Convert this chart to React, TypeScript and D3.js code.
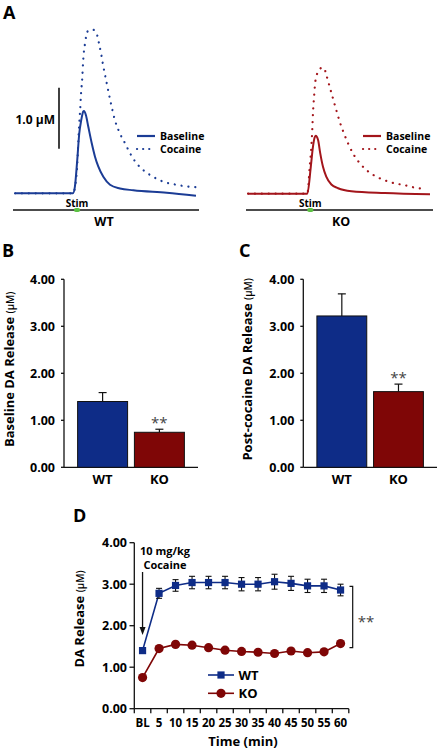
import React from 'react';
import * as d3 from 'd3';

const FONT = "'Open Sans', 'DejaVu Sans', sans-serif";
const BLUE_TRACE = '#1b3c95';
const RED_TRACE = '#a3151b';
const BLUE = '#0e2c87';
const RED = '#7f0606';
const GREEN = '#5cc143';

// ---- Panel A: voltammetry traces (time s, concentration µM)
const wtBaseT = [0, 1, 2, 3.2, 3.31, 3.44, 3.55, 3.66, 3.77, 3.81, 3.92, 4.05, 4.24, 4.42, 4.6, 4.88, 5.25, 5.8, 6.54, 8.38, 10];
const wtBaseV = [0, 0, 0, 0, 0.11, 0.55, 0.98, 1.2, 1.34, 1.35, 1.28, 1.09, 0.82, 0.6, 0.44, 0.27, 0.14, 0.08, 0.05, 0.01, -0.04];
const wtCocT = [0, 3.2, 3.4, 3.54, 3.6, 3.65, 3.72, 3.77, 3.87, 4.0, 4.14, 4.33, 4.51, 4.64, 4.75, 4.88, 5.03, 5.18, 5.34, 5.52, 5.8, 6.08, 6.35, 6.72, 7.09, 7.64, 8.19, 8.75, 9.3, 10];
const wtCocV = [0, 0, 0.3, 1.09, 1.37, 1.64, 1.91, 2.19, 2.46, 2.65, 2.68, 2.68, 2.62, 2.46, 2.3, 2.08, 1.86, 1.64, 1.42, 1.2, 0.98, 0.82, 0.66, 0.49, 0.38, 0.27, 0.19, 0.15, 0.12, 0.1];
const koBaseT = [0, 1, 2, 3.26, 3.45, 3.57, 3.66, 3.72, 3.85, 3.97, 4.12, 4.3, 4.58, 4.95, 5.68, 7.51, 10];
const koBaseV = [0, 0, 0, 0, 0.44, 0.77, 0.92, 0.95, 0.88, 0.66, 0.44, 0.28, 0.15, 0.09, 0.04, 0.01, -0.01];
const koCocT = [0, 3.26, 3.39, 3.48, 3.53, 3.57, 3.63, 3.7, 3.85, 4.03, 4.18, 4.3, 4.49, 4.67, 4.85, 5.04, 5.27, 5.49, 5.77, 6.14, 6.5, 7.05, 7.51, 8.06, 8.61, 9.16, 9.8];
const koCocV = [0, 0, 0.44, 0.77, 1.04, 1.32, 1.59, 1.84, 2.0, 2.06, 2.06, 1.95, 1.75, 1.56, 1.37, 1.18, 0.99, 0.83, 0.66, 0.5, 0.39, 0.28, 0.22, 0.17, 0.14, 0.1, 0.08];
const stimStart = 3.25;
const stimEnd = 3.6;

// ---- Panels B & C
const groups = ['WT', 'KO'];
const baselineMeans = [1.4, 0.745];
const baselineErr = [0.19, 0.065];
const cocaineMeans = [3.22, 1.61];
const cocaineErr = [0.47, 0.16];
const yTicks = [0, 1, 2, 3, 4];

// ---- Panel D
const timeLabels = ['BL', '5', '10', '15', '20', '25', '30', '35', '40', '45', '50', '55', '60'];
const wtMeans = [1.4, 2.78, 2.97, 3.04, 3.04, 3.04, 3.0, 3.0, 3.06, 3.02, 2.96, 2.96, 2.86];
const wtErr = [0, 0.12, 0.14, 0.15, 0.15, 0.15, 0.16, 0.16, 0.18, 0.17, 0.16, 0.16, 0.14];
const koMeans = [0.75, 1.45, 1.55, 1.53, 1.47, 1.41, 1.38, 1.36, 1.33, 1.39, 1.35, 1.37, 1.57];
const bracketTop = 2.95;
const bracketBottom = 1.47;

function Trace({ x0, x1, y0, color, name }: { x0: number; x1: number; y0: number; color: string; name: string }) {
  const x = d3.scaleLinear().domain([0, 10]).range([x0, x1]);
  const y = d3.scaleLinear().domain([0, 1]).range([y0, y0 - 61]);
  const isWT = name === 'WT';
  const bT = isWT ? wtBaseT : koBaseT;
  const bV = isWT ? wtBaseV : koBaseV;
  const cT = isWT ? wtCocT : koCocT;
  const cV = isWT ? wtCocV : koCocV;
  const line = d3.line<[number, number]>().x(d => x(d[0])).y(d => y(d[1])).curve(d3.curveMonotoneX);
  const base = line(bT.map((t, i) => [t, bV[i]] as [number, number])) || '';
  const coc = line(cT.map((t, i) => [t, cV[i]] as [number, number])) || '';
  const lx = isWT ? 137 : 363;
  return (
    <g>
      <path d={coc} fill="none" stroke={color} strokeWidth={2.2} strokeDasharray="0.1 6.8" strokeLinecap="round" />
      <path d={base} fill="none" stroke={color} strokeWidth={2} />
      <line x1={lx} x2={lx + 18} y1={136} y2={136} stroke={color} strokeWidth={2.2} />
      <line x1={lx} x2={lx + 18} y1={149} y2={149} stroke={color} strokeWidth={2.2} strokeDasharray="0.1 6" strokeLinecap="round" />
      <text x={lx + 23} y={139.5} fontSize={10.5} fontWeight={700} fontFamily={FONT}>Baseline</text>
      <text x={lx + 23} y={152.5} fontSize={10.5} fontWeight={700} fontFamily={FONT}>Cocaine</text>
      <line x1={x0 - 2} x2={x1 + 3} y1={210} y2={210} stroke="#111" strokeWidth={1.5} />
      <rect x={x(stimStart)} y={208} width={x(stimEnd) - x(stimStart)} height={4} rx={2} fill={GREEN} />
      <text x={(x(stimStart) + x(stimEnd)) / 2} y={206.5} textAnchor="middle" fontSize={10} fontWeight={700} fontFamily={FONT}>Stim</text>
      <text x={isWT ? 104 : 341} y={225.5} textAnchor="middle" fontSize={12.5} fontWeight={700} fontFamily={FONT}>{name}</text>
      {isWT && (
        <g>
          <line x1={59} x2={59} y1={y(0.73)} y2={y(1.73)} stroke="#111" strokeWidth={1.6} />
          <text x={55} y={124} textAnchor="end" fontSize={12} fontWeight={700} fontFamily={FONT}>1.0 µM</text>
        </g>
      )}
    </g>
  );
}

function BarPanel({ x0, x1, means, errs, label, labelX, letter, letterX }: {
  x0: number; x1: number; means: number[]; errs: number[]; label: string; labelX: number; letter: string; letterX: number;
}) {
  const y = d3.scaleLinear().domain([0, 4]).range([467.3, 279.3]);
  const x = d3.scaleBand<string>().domain(groups).range([x0, x1]).paddingInner(0.12).paddingOuter(0.24);
  const bw = x.bandwidth();
  const colors = [BLUE, RED];
  return (
    <g fontFamily={FONT}>
      <text x={letterX} y={257} fontSize={18} fontWeight={700}>{letter}</text>
      <line x1={x0} x2={x0} y1={y(4)} y2={y(0)} stroke="#111" strokeWidth={1.3} />
      <line x1={x0} x2={x1} y1={y(0)} y2={y(0)} stroke="#111" strokeWidth={1.3} />
      {yTicks.map(t => (
        <g key={t}>
          <line x1={x0 - 3} x2={x0} y1={y(t)} y2={y(t)} stroke="#111" strokeWidth={1.3} />
          <text x={x0 - 9} y={y(t) + 4.5} textAnchor="end" fontSize={12.5} fontWeight={700}>{t.toFixed(2)}</text>
        </g>
      ))}
      {groups.map((g, i) => {
        const bx = x(g) as number;
        const cx = bx + bw / 2;
        return (
          <g key={g}>
            <line x1={cx} x2={cx} y1={y(means[i])} y2={y(means[i] + errs[i])} stroke="#111" strokeWidth={1.2} />
            <line x1={cx - 4} x2={cx + 4} y1={y(means[i] + errs[i])} y2={y(means[i] + errs[i])} stroke="#111" strokeWidth={1.2} />
            <rect x={bx} y={y(means[i])} width={bw} height={y(0) - y(means[i])} fill={colors[i]} stroke="#111" strokeWidth={1} />
            <text x={cx} y={484} textAnchor="middle" fontSize={13} fontWeight={700}>{g}</text>
          </g>
        );
      })}
      <text x={(x('KO') as number) + bw / 2} y={y(means[1] + errs[1]) + 0.5} textAnchor="middle" fontSize={15} fill="#444" dy={-2}>**</text>
      <text transform={`translate(${labelX},${(y(4) + y(0)) / 2 - 4}) rotate(-90)`} textAnchor="middle" dy="0.35em" fontSize={13} fontWeight={700}>
        {label} <tspan fontSize={10} fontWeight={600}>(µM)</tspan>
      </text>
    </g>
  );
}

function TimeCourse() {
  const x = d3.scaleBand<string>().domain(timeLabels).range([134.3, 348.8]).padding(0);
  const y = d3.scaleLinear().domain([0, 4]).range([708.7, 542.7]);
  const cx = (l: string) => (x(l) as number) + x.bandwidth() / 2;
  const line = d3.line<number>().x((_, i) => cx(timeLabels[i])).y(d => y(d));
  const step = x.step();
  const blX = cx('BL');
  return (
    <g fontFamily={FONT}>
      <text x={73} y={522} fontSize={18} fontWeight={700}>D</text>
      <line x1={134.3} x2={134.3} y1={y(4)} y2={y(0)} stroke="#111" strokeWidth={1.3} />
      <line x1={134.3} x2={348.8} y1={y(0)} y2={y(0)} stroke="#111" strokeWidth={1.3} />
      {yTicks.map(t => (
        <g key={t}>
          <line x1={129.5} x2={134.3} y1={y(t)} y2={y(t)} stroke="#111" strokeWidth={1.3} />
          <text x={127} y={y(t) + 4.5} textAnchor="end" fontSize={12.5} fontWeight={700}>{t.toFixed(2)}</text>
        </g>
      ))}
      {d3.range(timeLabels.length + 1).map(i => (
        <line key={i} x1={134.3 + i * step} x2={134.3 + i * step} y1={y(0)} y2={y(0) + 4.5} stroke="#111" strokeWidth={1.3} />
      ))}
      {timeLabels.map(l => (
        <text key={l} x={cx(l)} y={727} textAnchor="middle" fontSize={11.5} fontWeight={700}>{l}</text>
      ))}
      <text x={243} y={745.5} textAnchor="middle" fontSize={13} fontWeight={700}>Time (min)</text>
      <text transform={`translate(79,619) rotate(-90)`} textAnchor="middle" dy="0.35em" fontSize={13} fontWeight={700}>
        DA Release <tspan fontSize={10} fontWeight={600}>(µM)</tspan>
      </text>
      {/* annotation */}
      <text x={165} y={555} textAnchor="middle" fontSize={11} fontWeight={700}>10 mg/kg</text>
      <text x={165} y={569} textAnchor="middle" fontSize={11} fontWeight={700}>Cocaine</text>
      <line x1={blX} x2={blX} y1={572} y2={628} stroke="#111" strokeWidth={1.3} />
      <path d={`M${blX - 3},${627} L${blX + 3},${627} L${blX},${635} Z`} fill="#111" />
      {/* series */}
      <path d={line(koMeans) || ''} fill="none" stroke={RED} strokeWidth={1.6} />
      <path d={line(wtMeans) || ''} fill="none" stroke={BLUE} strokeWidth={1.6} />
      {wtMeans.map((m, i) => {
        const px = cx(timeLabels[i]);
        return wtErr[i] > 0 ? (
          <g key={i} stroke="#111" strokeWidth={1.1}>
            <line x1={px} x2={px} y1={y(m - wtErr[i])} y2={y(m + wtErr[i])} />
            <line x1={px - 3} x2={px + 3} y1={y(m - wtErr[i])} y2={y(m - wtErr[i])} />
            <line x1={px - 3} x2={px + 3} y1={y(m + wtErr[i])} y2={y(m + wtErr[i])} />
          </g>
        ) : null;
      })}
      {koMeans.map((m, i) => (
        <circle key={i} cx={cx(timeLabels[i])} cy={y(m)} r={4.6} fill={RED} />
      ))}
      {wtMeans.map((m, i) => (
        <rect key={i} x={cx(timeLabels[i]) - 3.6} y={y(m) - 3.6} width={7.2} height={7.2} fill={BLUE} />
      ))}
      {/* legend */}
      <line x1={208} x2={234} y1={675} y2={675} stroke={BLUE} strokeWidth={1.6} />
      <rect x={221 - 3.6} y={675 - 3.6} width={7.2} height={7.2} fill={BLUE} />
      <text x={238.5} y={679.5} fontSize={13} fontWeight={700}>WT</text>
      <line x1={208} x2={234} y1={693.3} y2={693.3} stroke={RED} strokeWidth={1.6} />
      <circle cx={221} cy={693.3} r={4.6} fill={RED} />
      <text x={238.5} y={698} fontSize={13} fontWeight={700}>KO</text>
      {/* significance bracket */}
      <path d={`M349.5,${y(bracketTop)} H352.7 V${y(bracketBottom)} H349.5`} fill="none" stroke="#111" strokeWidth={1.2} />
      <text x={366} y={627} textAnchor="middle" fontSize={15} fill="#444">**</text>
    </g>
  );
}

export default function App() {
  return (
    <svg width={438} height={750} style={{ position: 'absolute', left: 0, top: 0, background: '#fff' }}>
      <rect width={438} height={750} fill="#fff" />
      <text x={3} y={19} fontSize={18} fontWeight={700} fontFamily={FONT}>A</text>
      <Trace x0={15} x1={196} y0={193.3} color={BLUE_TRACE} name="WT" />
      <Trace x0={248} x1={430} y0={193.7} color={RED_TRACE} name="KO" />
      <BarPanel x0={64} x1={198} means={baselineMeans} errs={baselineErr} label="Baseline DA Release" labelX={9} letter="B" letterX={2} />
      <BarPanel x0={303.3} x1={437} means={cocaineMeans} errs={cocaineErr} label="Post-cocaine DA Release" labelX={247} letter="C" letterX={239} />
      <TimeCourse />
    </svg>
  );
}
